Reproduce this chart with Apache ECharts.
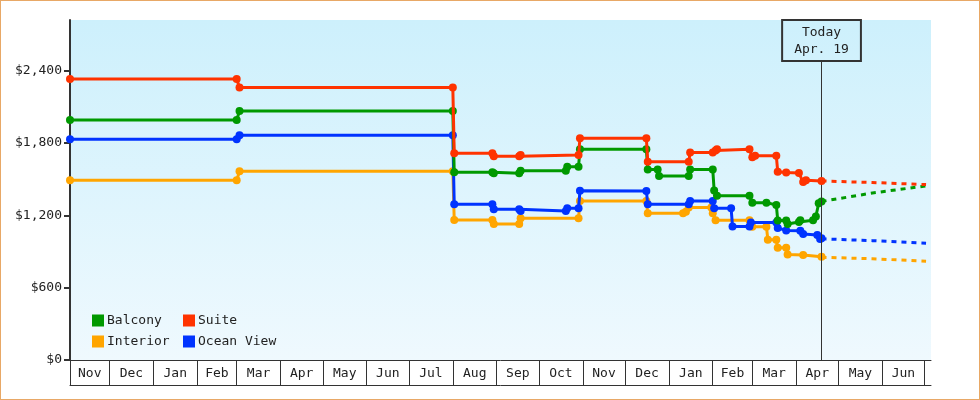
<!DOCTYPE html>
<html>
<head>
<meta charset="utf-8">
<script src="https://cdn.jsdelivr.net/npm/echarts@6/dist/echarts.min.js"></script>
<style>
  body { margin: 0; background: #fff; }
  #wrap { position: relative; width: 980px; height: 400px; }
  #chart { position: absolute; left: 0; top: 0; width: 980px; height: 400px; }
  #frame { position: absolute; left: 0; top: 0; width: 980px; height: 400px; box-sizing: border-box;
           border: 1px solid #e8a866; pointer-events: none; }
</style>
</head>
<body>
<div id="wrap">
  <div id="chart"></div>
  <div id="frame"></div>
</div>
<script>
// price history, [date, price]
const balcony = [
  ['2021-11-03', 1990], ['2022-03-01', 1990], ['2022-03-03', 2065], ['2022-08-01', 2065],
  ['2022-08-02', 1557], ['2022-08-29', 1557], ['2022-08-30', 1548], ['2022-09-17', 1548],
  ['2022-09-18', 1570], ['2022-10-20', 1570], ['2022-10-21', 1603], ['2022-10-29', 1603],
  ['2022-10-30', 1747], ['2022-12-16', 1747], ['2022-12-17', 1581], ['2022-12-24', 1581],
  ['2022-12-25', 1526], ['2023-01-15', 1526], ['2023-01-16', 1581], ['2023-02-01', 1581],
  ['2023-02-02', 1405], ['2023-02-04', 1363], ['2023-02-27', 1363], ['2023-03-01', 1305],
  ['2023-03-11', 1305], ['2023-03-18', 1286], ['2023-03-19', 1158], ['2023-03-25', 1158],
  ['2023-03-26', 1128], ['2023-04-03', 1145], ['2023-04-04', 1160], ['2023-04-13', 1160],
  ['2023-04-15', 1190], ['2023-04-17', 1300], ['2023-04-19', 1315]
];
const suite = [
  ['2021-11-03', 2330], ['2022-03-01', 2330], ['2022-03-03', 2260], ['2022-08-01', 2260],
  ['2022-08-02', 1715], ['2022-08-29', 1715], ['2022-08-30', 1690], ['2022-09-17', 1690],
  ['2022-09-18', 1700], ['2022-10-29', 1700], ['2022-10-30', 1840], ['2022-12-16', 1840],
  ['2022-12-17', 1645], ['2023-01-15', 1645], ['2023-01-16', 1722], ['2023-02-01', 1722],
  ['2023-02-03', 1738], ['2023-02-04', 1747], ['2023-02-27', 1747], ['2023-03-01', 1682],
  ['2023-03-03', 1694], ['2023-03-18', 1694], ['2023-03-19', 1562], ['2023-03-25', 1555],
  ['2023-04-03', 1550], ['2023-04-06', 1476], ['2023-04-08', 1490], ['2023-04-19', 1485]
];
const interior = [
  ['2021-11-03', 1490], ['2022-03-01', 1490], ['2022-03-03', 1565], ['2022-08-01', 1565],
  ['2022-08-02', 1161], ['2022-08-29', 1161], ['2022-08-30', 1128], ['2022-09-17', 1128],
  ['2022-09-18', 1175], ['2022-10-29', 1175], ['2022-10-30', 1319], ['2022-12-16', 1319],
  ['2022-12-17', 1217], ['2023-01-11', 1217], ['2023-01-13', 1230], ['2023-01-15', 1264],
  ['2023-01-31', 1264], ['2023-02-01', 1217], ['2023-02-03', 1160], ['2023-02-27', 1160],
  ['2023-03-01', 1106], ['2023-03-11', 1106], ['2023-03-12', 998], ['2023-03-18', 998],
  ['2023-03-19', 930], ['2023-03-25', 930], ['2023-03-26', 875], ['2023-04-06', 871],
  ['2023-04-19', 857]
];
const oceanView = [
  ['2021-11-03', 1830], ['2022-03-01', 1830], ['2022-03-03', 1864], ['2022-08-01', 1864],
  ['2022-08-02', 1291], ['2022-08-29', 1291], ['2022-08-30', 1250], ['2022-09-17', 1250],
  ['2022-09-18', 1236], ['2022-10-20', 1236], ['2022-10-21', 1258], ['2022-10-29', 1258],
  ['2022-10-30', 1404], ['2022-12-16', 1402], ['2022-12-17', 1291], ['2023-01-15', 1291],
  ['2023-01-16', 1319], ['2023-02-01', 1319], ['2023-02-02', 1258], ['2023-02-14', 1258],
  ['2023-02-15', 1108], ['2023-02-27', 1108], ['2023-02-28', 1140], ['2023-03-18', 1140],
  ['2023-03-19', 1095], ['2023-03-25', 1075], ['2023-04-04', 1073], ['2023-04-06', 1045],
  ['2023-04-16', 1037], ['2023-04-18', 1004], ['2023-04-19', 1010]
];

// projected prices after today
const balconyForecast = [['2023-04-19', 1315], ['2023-05-25', 1385], ['2023-07-02', 1444]];
const suiteForecast = [['2023-04-19', 1485], ['2023-05-25', 1472], ['2023-07-02', 1455]];
const interiorForecast = [['2023-04-19', 852], ['2023-05-25', 840], ['2023-07-02', 819]];
const oceanViewForecast = [['2023-04-19', 1005], ['2023-05-25', 990], ['2023-07-02', 968]];

const monthTicks = [
  '2021-11-03', '2021-12-01', '2022-01-01', '2022-02-01', '2022-03-01', '2022-04-01',
  '2022-05-01', '2022-06-01', '2022-07-01', '2022-08-01', '2022-09-01', '2022-10-01',
  '2022-11-01', '2022-12-01', '2023-01-01', '2023-02-01', '2023-03-01', '2023-04-01',
  '2023-05-01', '2023-06-01', '2023-07-01'
];
const monthNames = ['Jan', 'Feb', 'Mar', 'Apr', 'May', 'Jun', 'Jul', 'Aug', 'Sep', 'Oct', 'Nov', 'Dec'];
const priceTicks = [0, 600, 1200, 1800, 2400];
const xStart = '2021-11-03';
const xEnd = '2023-07-05T12:00';
const today = '2023-04-19';
const todayText = 'Today\nApr. 19';

const FONT = 'DejaVu Sans Mono';

function t(s) {
  let [d, h] = s.split('T');
  let p = d.split('-').map(Number);
  let hh = h ? Number(h.split(':')[0]) : 0;
  return new Date(p[0], p[1] - 1, p[2], hh).getTime();
}
function pts(arr) {
  return arr.map(d => [t(d[0]), d[1]]);
}

let tickVals = monthTicks.map(t);
let labelVals = [];
for (let i = 0; i < tickVals.length - 1; i++) {
  labelVals.push((tickVals[i] + tickVals[i + 1]) / 2);
}

let chart = echarts.init(document.getElementById('chart'));

function histSeries(name, color, data, z) {
  return {
    name: name,
    type: 'line',
    data: pts(data),
    z: z,
    symbol: 'circle',
    symbolSize: 8,
    color: color,
    itemStyle: { color: color },
    lineStyle: { color: color, width: 3 },
    emphasis: { disabled: true }
  };
}
function fcSeries(name, color, data, z) {
  return {
    name: name,
    type: 'line',
    data: pts(data),
    z: z,
    showSymbol: false,
    color: color,
    lineStyle: { color: color, width: 3, type: [5, 5] },
    emphasis: { disabled: true }
  };
}

let todaySeries = histSeries('Balcony', '#009900', balcony, 4);
todaySeries.markLine = {
  silent: true,
  symbol: ['none', 'none'],
  animation: false,
  lineStyle: { color: '#333', width: 1, type: 'solid' },
  label: {
    show: true,
    position: 'end',
    distance: 0,
    formatter: todayText,
    color: '#222',
    fontFamily: FONT,
    fontSize: 13,
    lineHeight: 17,
    padding: [4, 12, 3, 12],
    borderColor: '#333',
    borderWidth: 1,
    backgroundColor: 'transparent'
  },
  data: [[{ coord: [t(today), 0] }, { coord: [t(today), 2480] }]]
};

let option = {
  animation: false,
  backgroundColor: '#fff',
  grid: {
    left: 70, right: 49, top: 20, bottom: 40,
    show: true,
    borderWidth: 0,
    backgroundColor: {
      type: 'linear', x: 0, y: 0, x2: 0, y2: 1,
      colorStops: [{ offset: 0, color: '#cdf0fc' }, { offset: 1, color: '#eff9fe' }]
    }
  },
  legend: {
    data: ['Balcony', 'Suite', 'Interior', 'Ocean View'],
    left: 92,
    top: 314,
    width: 190,
    padding: 0,
    orient: 'horizontal',
    icon: 'rect',
    itemWidth: 12,
    itemHeight: 12,
    itemGap: 8,
    textStyle: { fontFamily: FONT, fontSize: 13, color: '#222', width: 68, lineHeight: 12, padding: [0, 0, 0, -2] }
  },
  xAxis: [
    {
      type: 'value',
      min: t(xStart),
      max: t(xEnd),
      axisLine: { show: true, lineStyle: { color: '#333', width: 1 } },
      axisTick: { show: true, customValues: tickVals, length: 25, lineStyle: { color: '#333', width: 1 } },
      axisLabel: {
        customValues: labelVals,
        margin: 7,
        color: '#222',
        fontFamily: FONT,
        fontSize: 13,
        formatter: v => monthNames[new Date(v).getMonth()]
      },
      splitLine: { show: false }
    },
    {
      type: 'value',
      position: 'bottom',
      offset: 25,
      min: t(xStart),
      max: t(xEnd),
      axisLine: { show: true, lineStyle: { color: '#333', width: 1 } },
      axisTick: { show: false },
      axisLabel: { show: false },
      splitLine: { show: false }
    }
  ],
  yAxis: {
    type: 'value',
    min: 0,
    max: 2820,
    axisLine: { show: true, lineStyle: { color: '#333', width: 2 } },
    axisTick: { show: true, customValues: priceTicks, length: 6, lineStyle: { color: '#333', width: 2 } },
    axisLabel: {
      customValues: priceTicks,
      margin: 8,
      color: '#222',
      fontFamily: FONT,
      fontSize: 13,
      formatter: v => '$' + v.toLocaleString('en-US')
    },
    splitLine: { show: false }
  },
  series: [
    histSeries('Interior', '#ffa500', interior, 2),
    histSeries('Ocean View', '#0033ff', oceanView, 3),
    todaySeries,
    histSeries('Suite', '#ff3300', suite, 5),
    fcSeries('Interior forecast', '#ffa500', interiorForecast, 2),
    fcSeries('Ocean View forecast', '#0033ff', oceanViewForecast, 3),
    fcSeries('Balcony forecast', '#009900', balconyForecast, 4),
    fcSeries('Suite forecast', '#ff3300', suiteForecast, 5)
  ]
};

chart.setOption(option);
</script>
</body>
</html>
